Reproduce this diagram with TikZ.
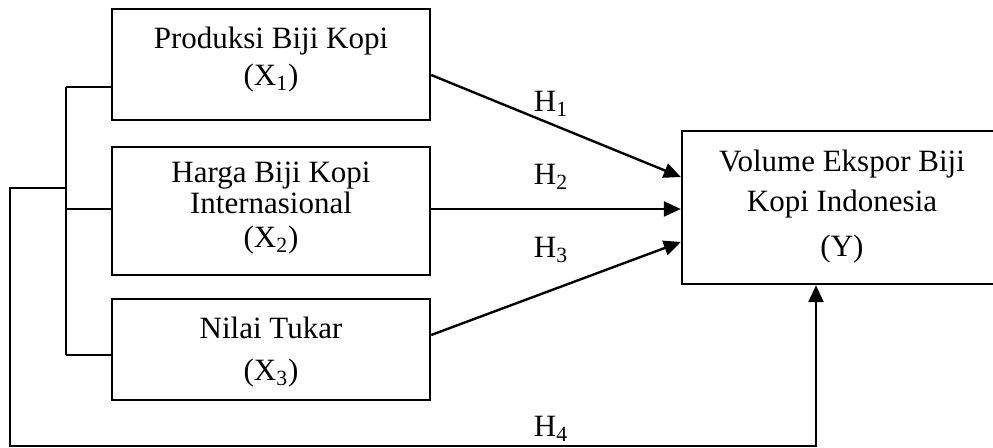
\documentclass[tikz,border=0pt]{standalone}
\usepackage{fontspec}
\setmainfont{Liberation Serif}
\usetikzlibrary{arrows.meta}
\begin{document}
\begin{tikzpicture}[x=0.5pt,y=-0.5pt,
  box/.style={draw,line width=1.2pt,inner sep=0pt},
  lbl/.style={anchor=base,inner sep=0pt,font=\fontsize{15.5}{18}\selectfont},
  conn/.style={line width=1.2pt},
  arr/.style={line width=1.2pt,-{Triangle[length=8.5pt,width=7.5pt]}}]
\useasboundingbox (0,0) rectangle (993,448);
\clip (0,0) rectangle (993,448);
% boxes
\node[box,minimum width=159pt,minimum height=55.5pt] (x1) at (271,64.5) {};
\node[box,minimum width=159pt,minimum height=64pt] (x2) at (271,211) {};
\node[box,minimum width=159pt,minimum height=50.5pt] (x3) at (271,349.5) {};
\node[box,minimum width=160pt,minimum height=76.5pt] (y) at (842,207.5) {};
% texts
\node[lbl] (t1a) at (271,49) {Produksi Biji Kopi};
\node[lbl] (t1b) at (271,86) {(X\textsubscript{1})};
\node[lbl] (t2a) at (271,183) {Harga Biji Kopi};
\node[lbl] (t2b) at (271,214) {Internasional};
\node[lbl] (t2c) at (271,248) {(X\textsubscript{2})};
\node[lbl] (t3a) at (271,339) {Nilai Tukar};
\node[lbl] (t3b) at (271,381) {(X\textsubscript{3})};
\node[lbl] (tya) at (842,172) {Volume Ekspor Biji};
\node[lbl] (tyb) at (842,212) {Kopi Indonesia};
\node[lbl] (tyc) at (842,257) {(Y)};
% hypothesis labels
\node[lbl] (h1) at (551,112) {H\textsubscript{1}};
\node[lbl] (h2) at (551,185) {H\textsubscript{2}};
\node[lbl] (h3) at (551,258) {H\textsubscript{3}};
\node[lbl] (h4) at (551,437) {H\textsubscript{4}};
% bracket
\coordinate (bt) at (66,87);
\coordinate (bb) at (66,355);
\coordinate (bm) at (66,188);
\draw[conn] (bt) -- (bb);
\draw[conn] (bt) -- (x1.west |- bt);
\draw[conn] (66,209) -- (x2.west |- 0,209);
\draw[conn] (bb) -- (x3.west |- bb);
% arrows
\draw[arr] (x1.east |- 0,75) -- (y.west |- 0,177);
\draw[arr] (x2.east |- 0,209) -- (y.west |- 0,209);
\draw[arr] (x3.east |- 0,335) -- (y.west |- 0,242);
\draw[arr] (bm) -- (10,188) -- (10,446) -- (816,446) -- (y.south -| 816,0);
\end{tikzpicture}
\end{document}
